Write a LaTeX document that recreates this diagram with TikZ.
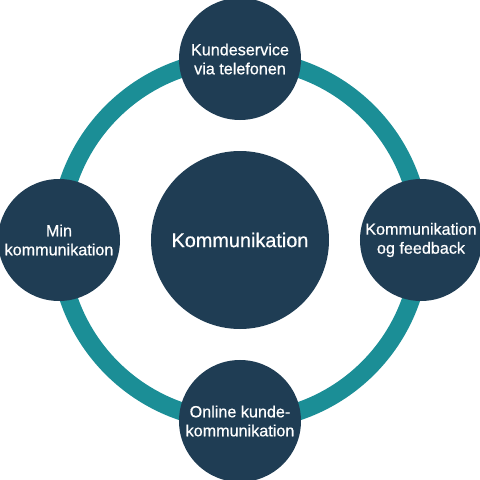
\documentclass[tikz,border=0pt]{standalone}
\usepackage{fontspec}
\setmainfont{Liberation Sans}[FakeBold=0.6]
\usepackage{xcolor}
\usetikzlibrary{positioning,backgrounds}
\definecolor{hubnavy}{HTML}{1F3D54}
\definecolor{ringteal}{HTML}{1B8E96}

\begin{document}
\begin{tikzpicture}[node distance=3.62cm, every node/.style={circle, fill=hubnavy, text=white, align=center, inner sep=0pt},
    satellite/.style={minimum size=2.44cm, font=\fontsize{9.2}{10.8}\selectfont}]
    \useasboundingbox (0,0) rectangle (9.6,9.6);

    % Define nodes
    \node (komm) [minimum size=3.56cm, font=\fontsize{11.3}{13}\selectfont] at (4.8,4.8) {Kommunikation};

    \node (phone) [above of=komm, satellite] {Kundeservice \\ via telefonen};

    \node (feedback) [right of=komm, satellite] {Kommunikation \\ og feedback};

    \node (online) [below of=komm, satellite] {Online kunde- \\ kommunikation};

    \node (mine) [left of=komm, satellite] {Min \\ kommunikation};

    % Define connections
    \begin{scope}[on background layer]
        \draw[line width=0.36cm, ringteal] (phone.center) to[bend left=45] (feedback.center)
            to[bend left=45] (online.center) to[bend left=45] (mine.center) to[bend left=45] (phone.center);
    \end{scope}

\end{tikzpicture}
\end{document}
